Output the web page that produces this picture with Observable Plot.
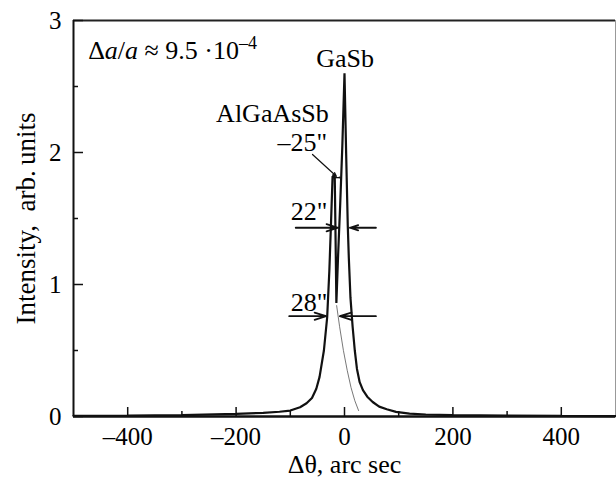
<!DOCTYPE html>
<html>
<head>
<meta charset="utf-8">
<script src="https://cdn.jsdelivr.net/npm/d3@7"></script>
<script src="https://cdn.jsdelivr.net/npm/@observablehq/plot@0.6"></script>
<style>
  html, body { margin: 0; padding: 0; background: #fff; }
  svg { display: block; }
</style>
</head>
<body>
<div id="chart"></div>
<script>
// Main measured curve (thick)
const curveX = [-500, -400, -300, -200, -150, -120, -100, -82, -70, -60, -52, -46, -38, -32, -28, -25, -22, -18, -16, -15, -12, -8, -4, 0, 3, 6, 8, 11, 15, 19, 23, 28, 34, 42, 52, 64, 78, 95, 120, 150, 200, 300, 400, 500];
const curveY = [0.004, 0.006, 0.01, 0.02, 0.028, 0.036, 0.045, 0.07, 0.1, 0.14, 0.21, 0.3, 0.5, 0.75, 1.1, 1.45, 1.82, 1.82, 1.2, 0.86, 1.2, 1.6, 2.05, 2.6, 2.0, 1.45, 1.2, 0.9, 0.68, 0.5, 0.36, 0.26, 0.2, 0.15, 0.11, 0.075, 0.055, 0.035, 0.022, 0.015, 0.01, 0.006, 0.004, 0.003];

// Thin decomposed AlGaAsSb tail
const tailX = [-14.5, -9, -2, 5, 12, 19, 26];
const tailY = [0.84, 0.68, 0.5, 0.35, 0.22, 0.12, 0.045];

// Axis ticks
const xMajor = [-400, -200, 0, 200, 400];
const xMinor = [-300, -100, 100, 300];
const yMajor = [0, 1, 2, 3];
const yMinor = [0.5, 1.5, 2.5];

// Annotations
const labelText = ["Δa/a ≈ 9.5 ·10−4", "GaSb", "AlGaAsSb", "–25\"", "22\"", "28\""];
const labelX = [-473, 1, -29, -32, -31.5, -31.5];
const labelY = [2.71, 2.646, 2.229, 2.015, 1.485, 0.803];
const labelAnchor = ["start", "middle", "end", "end", "end", "end"];

// Big arrows (x1,y1) -> (x2,y2)
const arrowX1 = [-102, 58, -90, 58];
const arrowY1 = [0.76, 0.76, 1.43, 1.43];
const arrowX2 = [-34, -8.5, -12, 10];
const arrowY2 = [0.76, 0.76, 1.43, 1.43];
// Small arrows near AlGaAsSb peak
const smallX1 = [-59, -14, -14];
const smallY1 = [1.985, 1.81, 1.81];
const smallX2 = [-15, -20, -8];
const smallY2 = [1.82, 1.81, 1.81];

const curve = curveX.map((x, i) => ({x, y: curveY[i]}));
const tail = tailX.map((x, i) => ({x, y: tailY[i]}));
const labels = labelText.map((t, i) => ({t, x: labelX[i], y: labelY[i], a: labelAnchor[i]}));
const arrows = arrowX1.map((x1, i) => ({x1, y1: arrowY1[i], x2: arrowX2[i], y2: arrowY2[i]}));
const smalls = smallX1.map((x1, i) => ({x1, y1: smallY1[i], x2: smallX2[i], y2: smallY2[i]}));

const font = "Liberation Serif, Times New Roman, serif";

const svg = Plot.plot({
  width: 616,
  height: 482,
  marginLeft: 73,
  marginRight: 1,
  marginTop: 20,
  marginBottom: 66,
  style: {fontFamily: font, color: "#000", background: "#fff"},
  x: {domain: [-500, 500]},
  y: {domain: [0, 3]},
  marks: [
    // frame
    Plot.ruleX([500], {stroke: "#999", strokeWidth: 1}),
    Plot.ruleY([3], {stroke: "#222", strokeWidth: 2}),
    Plot.ruleX([-500], {stroke: "#111", strokeWidth: 2}),
    // ticks (inward)
    Plot.ruleX(xMajor, {x: d => d, y1: 0, y2: 0, insetBottom: 9, stroke: "#111", strokeWidth: 1.5}),
    Plot.ruleX(xMinor, {x: d => d, y1: 0, y2: 0, insetBottom: 5, stroke: "#111", strokeWidth: 1.5}),
    Plot.ruleY(yMajor, {y: d => d, x1: -500, x2: -500, insetRight: -10, stroke: "#111", strokeWidth: 1.5}),
    Plot.ruleY(yMinor, {y: d => d, x1: -500, x2: -500, insetRight: -5, stroke: "#111", strokeWidth: 1.5}),
    // tick labels
    Plot.axisX(xMajor, {tickSize: 0, tickPadding: 11, fontSize: 25, fontFamily: font, tickFormat: d => d < 0 ? "–" + (-d) : String(d), label: null}),
    Plot.axisY(yMajor, {tickSize: 0, tickPadding: 12, fontSize: 25, fontFamily: font, tickFormat: d => String(d), label: null}),
    // axis titles
    Plot.text(["Δθ, arc sec"], {frameAnchor: "bottom", dy: 56, fontSize: 26, fontFamily: font, text: d => d}),
    Plot.text(["Intensity,\u00a0 arb.\u2009units"], {frameAnchor: "left", dx: -47, rotate: -90, textAnchor: "middle", fontSize: 27, fontFamily: font, text: d => d}),
    // curves
    Plot.line(tail, {x: "x", y: "y", stroke: "#555", strokeWidth: 0.8}),
    Plot.line(curve, {x: "x", y: "y", stroke: "#111", strokeWidth: 2.2, strokeLinejoin: "miter"}),
    // bottom axis line
    Plot.ruleY([0], {stroke: "#111", strokeWidth: 2.5}),
    // arrows
    Plot.arrow(arrows, {x1: "x1", y1: "y1", x2: "x2", y2: "y2", headLength: 10, headAngle: 35, stroke: "#111", strokeWidth: 1.8}),
    Plot.arrow(smalls, {x1: "x1", y1: "y1", x2: "x2", y2: "y2", headLength: 5, headAngle: 45, stroke: "#111", strokeWidth: 1.2}),
    // labels
    Plot.text(labels, {x: "x", y: "y", text: "t", textAnchor: "start", lineAnchor: "bottom", fontSize: 26, fontFamily: font, filter: d => d.a === "start"}),
    Plot.text(labels, {x: "x", y: "y", text: "t", textAnchor: "middle", lineAnchor: "bottom", fontSize: 26, fontFamily: font, filter: d => d.a === "middle"}),
    Plot.text(labels, {x: "x", y: "y", text: "t", textAnchor: "end", lineAnchor: "bottom", fontSize: 26, fontFamily: font, filter: d => d.a === "end"})
  ]
});

// rich formatting for the lattice mismatch label
d3.select(svg).selectAll("text").each(function() {
  const el = d3.select(this);
  if (el.text() === labelText[0]) {
    el.text(null);
    el.append("tspan").text("Δ");
    el.append("tspan").attr("font-style", "italic").text("a");
    el.append("tspan").text("/");
    el.append("tspan").attr("font-style", "italic").text("a");
    el.append("tspan").text(" ≈ 9.5 ·10");
    el.append("tspan").attr("font-size", "18").attr("dy", "-10").text("–4");
  }
});

document.getElementById("chart").appendChild(svg);
</script>
</body>
</html>
